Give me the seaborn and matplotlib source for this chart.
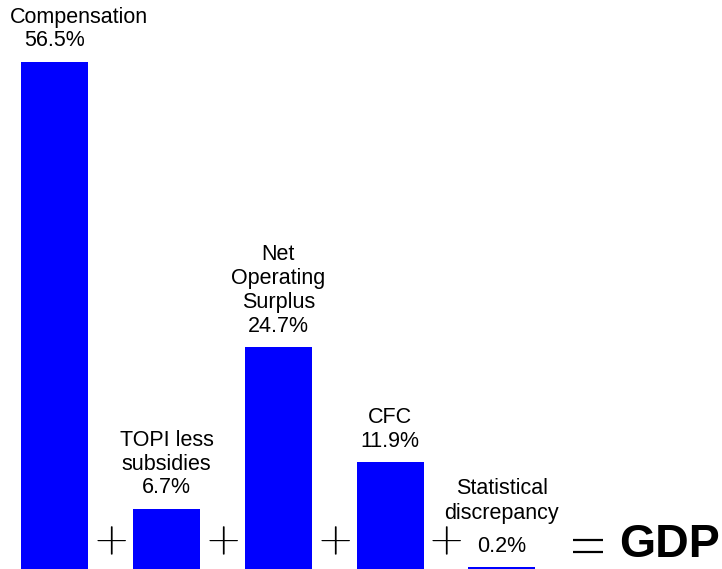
import numpy as np
import pandas as pd
import matplotlib as mpl
mpl.use('Agg')
import matplotlib.pyplot as plt
import seaborn as sns

# Componentes do PIB pela ótica da renda (% do PIB)
componentes = ['Compensation', 'TOPI less subsidies', 'Net Operating Surplus', 'CFC', 'Statistical discrepancy']
rotulos = ['Compensation', 'TOPI less\nsubsidies', 'Net\nOperating\nSurplus', 'CFC', 'Statistical\ndiscrepancy']
participacao = [56.5, 6.7, 24.7, 11.9, 0.2]
total_label = 'GDP'

dados = pd.DataFrame({'componente': componentes, 'participacao': participacao})

sns.set_style('white')
plt.rcParams['font.family'] = ['Liberation Sans', 'DejaVu Sans']
plt.rcParams['mathtext.fontset'] = 'cm'
plt.rcParams['text.color'] = 'black'

fig = plt.figure(figsize=(7.22, 5.69), dpi=100)
ax = fig.add_axes([0, 0, 1, 1])

sns.barplot(data=dados, x='componente', y='participacao', color='#0000FF',
            saturation=1, width=0.6, edgecolor='none', ax=ax)

ax.set_xlim(-0.4915, 5.972)
ax.set_ylim(0, 63.41)
ax.axis('off')

# rótulos acima das barras
for i, (rot, val) in enumerate(zip(rotulos, participacao)):
    ax.annotate('{}%'.format(val), (i, val), xytext=(0, 11.2), textcoords='offset points',
                ha='center', va='baseline', fontsize=15.5)
    extra = 23.8 if i == len(rotulos) - 1 else 17.0
    if i == 0:
        # primeiro rótulo encostado na borda esquerda
        ax.annotate(rot, (i, val), xytext=(-32.5, 11.2 + extra), textcoords='offset points',
                    ha='left', va='baseline', fontsize=15.5)
    else:
        ax.annotate(rot, (i, val), xytext=(0, 11.2 + extra), textcoords='offset points',
                    ha='center', va='baseline', fontsize=15.5, multialignment='center')

# sinais de soma entre as barras
for i in range(len(componentes) - 1):
    ax.text(i + 0.5, 3.2, r'$+$', ha='center', va='center', fontsize=31)

# sinal de igual
n = len(componentes)
for y_eq in (3.23, 1.89):
    ax.plot([n - 0.5 + 0.273], [y_eq], marker='_', markersize=22, markeredgewidth=1.6,
            color='black')
ax.text(n + 0.05, 1.3, total_label, ha='left', va='baseline', fontsize=33.5, weight='bold')

fig.savefig('out.png', dpi=100)
